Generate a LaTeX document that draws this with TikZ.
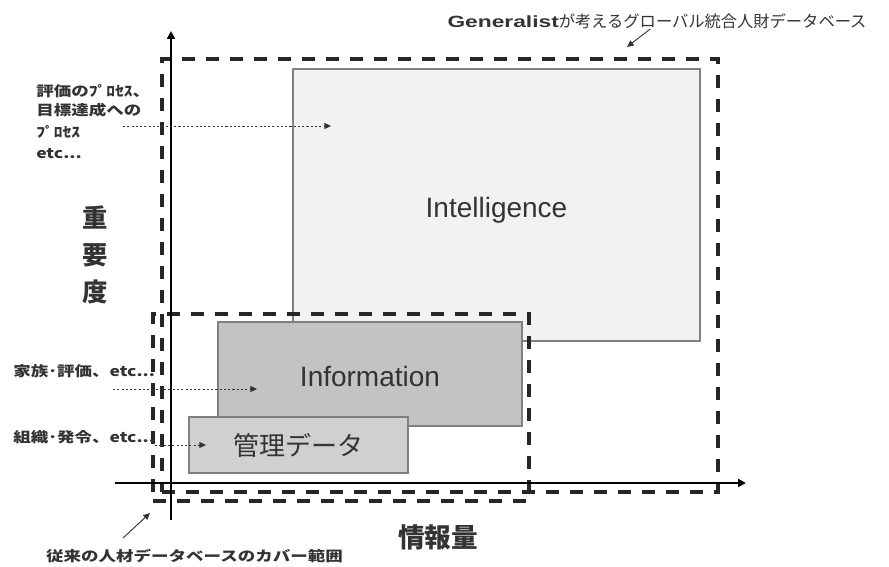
\documentclass[tikz,border=0pt]{standalone}
\usepackage{fontspec}
\setmainfont{Noto Sans CJK JP}
\newfontfamily\arialf{Liberation Sans}
\newfontfamily\jpw[FakeStretch=1.25]{Noto Sans CJK JP}
\usetikzlibrary{arrows.meta,fit}
\definecolor{txt}{HTML}{333333}
\definecolor{lightbox}{HTML}{F2F2F2}
\definecolor{midbox}{HTML}{C3C3C3}
\definecolor{lowbox}{HTML}{D0D0D0}
\begin{document}
\begin{tikzpicture}[x=0.75pt,y=-0.75pt,
  box/.style={draw=black!50,line width=1pt,inner sep=0pt,text=txt},
  dashbox/.style={draw=black!85,line width=2.6pt,dash pattern=on 9.5pt off 8.5pt,inner sep=0pt},
  axisline/.style={line width=2pt,-{Triangle[length=6pt,width=6pt]}},
  dotarrow/.style={dash pattern=on 1.6pt off 1.6pt,line width=0.75pt,draw=black!80,-{Triangle[length=5pt,width=4.5pt]}},
  callout/.style={line width=0.7pt,draw=black!80,-{Triangle[length=5pt,width=4.5pt]}},
  smalllab/.style={font=\jpw\bfseries\fontsize{10.5}{12}\selectfont,text=txt,inner sep=0pt},
  biglab/.style={font=\bfseries\fontsize{20}{21}\selectfont,text=txt,inner sep=0pt}]
\useasboundingbox (0,0) rectangle (889,567);

% boxes
\node[box,fill=lightbox,minimum width=305.25pt,minimum height=204pt,
      font=\arialf\fontsize{21}{24}\selectfont] (intel) at (496.5,205) {\raisebox{-9.5pt}[0pt][0pt]{Intelligence}};
\node[box,fill=midbox,minimum width=228pt,minimum height=78pt,
      font=\arialf\fontsize{21}{24}\selectfont] (info) at (370,374) {\raisebox{-9.5pt}[0pt][0pt]{Information}};
\node[box,fill=lowbox,minimum width=164.25pt,minimum height=42pt,
      font=\fontsize{19.5}{22}\selectfont] (kanri) at (298.5,445) {管理データ};

% dashed coverage rectangles
\node[dashbox,fit={(162,59) (718,492)}] (global) {};
\node[dashbox,fit={(153,314) (529,501)}] (legacy) {};

% axes
\coordinate (ybot) at (171,520);
\coordinate (ytop) at (171,31);
\coordinate (xleft) at (115,483);
\coordinate (xright) at (746,483);
\draw[axisline] (ybot) -- (ytop);
\draw[axisline] (xleft) -- (xright);

% axis labels
\node[biglab,align=center,font=\bfseries\fontsize{19}{28}\selectfont] (yl) at (95,255) {重\\要\\度};
\node[biglab] (xl) at (438,537) {情報量};

% title and callout
\node[text=txt,inner sep=0pt,font=\fontsize{12.2}{14}\selectfont] (title) at (657,21)
  {\scalebox{1.4}[1]{\arialf\bfseries Generalist}が考えるグローバル統合人財データベース};
\coordinate (tend) at (627,47);
\draw[callout] ([xshift=-5pt]title.south) -- (tend);

% bottom label and callout
\node[smalllab] (cover) at (194.5,556) {従来の人材データベースのカバー範囲};
\coordinate (cstart) at (123,538);
\coordinate (cend) at (150,513);
\draw[callout] (cstart) -- (cend);

% top-left labels
\node[smalllab,anchor=west] (p1) at (36,91) {評価のﾌﾟﾛｾｽ、};
\node[smalllab,anchor=west] (p2) at (36,110) {目標達成への};
\node[smalllab,anchor=west] (p3) at (36,132) {ﾌﾟﾛｾｽ};
\node[smalllab,anchor=west] (p4) at (36,154) {etc...};
\coordinate (a1s) at (123,126);
\coordinate (a1e) at (331,126);
\draw[dotarrow] (a1s) -- (a1e);

% middle labels
\node[smalllab,anchor=west] (fam) at (13,371) {家族･評価、etc...};
\coordinate (a2s) at (113,389);
\coordinate (a2e) at (257,389);
\draw[dotarrow] (a2s) -- (a2e);

\node[smalllab,anchor=west] (org) at (13,437) {組織･発令、etc...};
\coordinate (a3e) at (206,445);
\draw[dotarrow] (org.east |- a3e) -- (a3e);
\end{tikzpicture}
\end{document}
